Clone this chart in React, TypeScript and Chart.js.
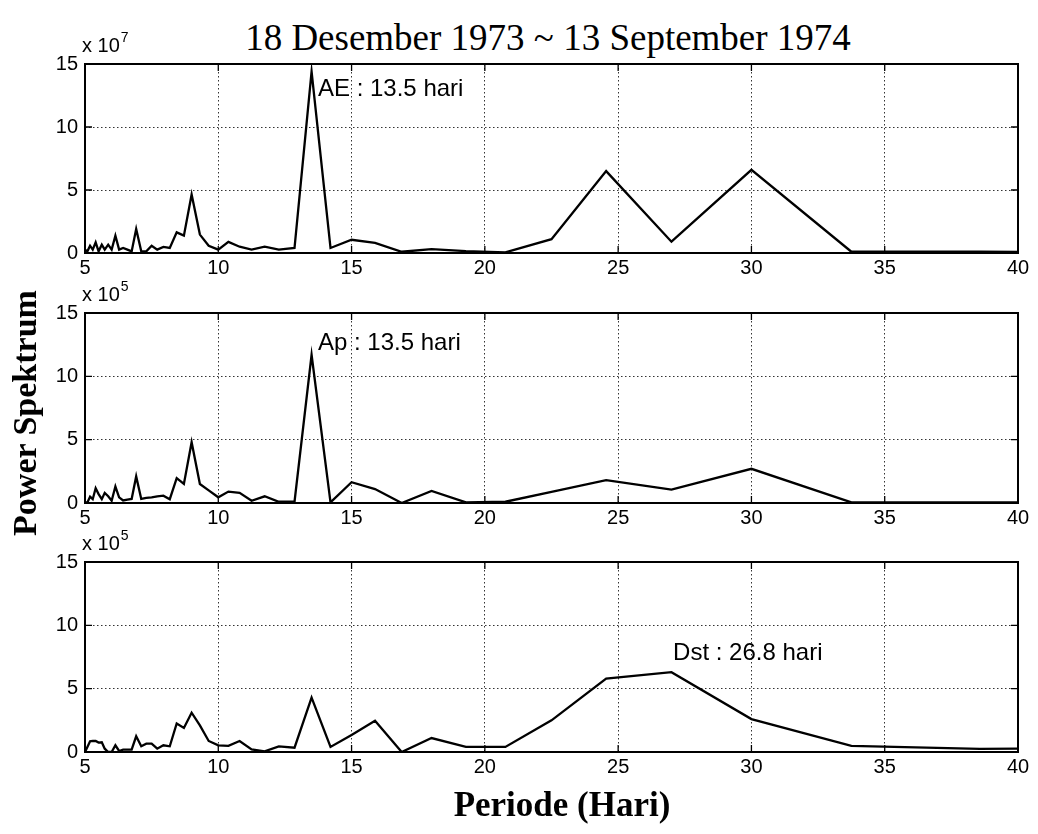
import React, { useEffect, useRef } from "react";
import { Chart, registerables } from "chart.js";

Chart.register(...registerables);

// Period (days) of each spectral estimate
const periods = [45, 38.57, 33.75, 30, 27, 24.55, 22.5, 20.77, 19.29, 18, 16.88, 15.88, 15, 14.21, 13.5, 12.86, 12.27, 11.74, 11.25, 10.8, 10.38, 10, 9.64, 9.31, 9, 8.71, 8.44, 8.18, 7.94, 7.71, 7.5, 7.3, 7.11, 6.92, 6.75, 6.59, 6.43, 6.28, 6.14, 6, 5.87, 5.74, 5.63, 5.51, 5.4, 5.29, 5.19, 5.09, 5];

// AE power spectrum (x 10^7)
const aeValues = [0.05, 0.1, 0.1, 6.6, 0.9, 6.5, 1.1, 0.05, 0.15, 0.3, 0.1, 0.8, 1.05, 0.4, 14.4, 0.4, 0.27, 0.5, 0.27, 0.5, 0.88, 0.27, 0.58, 1.46, 4.64, 1.38, 1.64, 0.4, 0.48, 0.27, 0.58, 0.13, 0.13, 1.9, 0.13, 0.27, 0.4, 0.27, 1.38, 0.27, 0.66, 0.27, 0.66, 0.13, 0.85, 0.27, 0.58, 0.13, 0.27];

// Ap power spectrum (x 10^5)
const apValues = [0.05, 0.05, 0.05, 2.7, 1.05, 1.8, 0.87, 0.1, 0.05, 0.95, 0.0, 1.1, 1.64, 0.05, 11.7, 0.1, 0.1, 0.53, 0.18, 0.8, 0.9, 0.45, 1.0, 1.5, 4.8, 1.5, 1.96, 0.3, 0.58, 0.53, 0.45, 0.4, 0.32, 2.1, 0.32, 0.26, 0.2, 0.45, 1.3, 0.18, 0.53, 0.8, 0.3, 0.7, 1.16, 0.3, 0.5, 0.05, 0.05];

// Dst power spectrum (x 10^5)
const dstValues = [0.33, 0.25, 0.48, 2.6, 6.3, 5.8, 2.5, 0.4, 0.4, 1.1, 0.0, 2.46, 1.35, 0.4, 4.3, 0.34, 0.45, 0.05, 0.2, 0.87, 0.48, 0.53, 0.87, 2.1, 3.1, 1.9, 2.25, 0.45, 0.53, 0.26, 0.66, 0.66, 0.45, 1.24, 0.18, 0.18, 0.18, 0.08, 0.53, 0, 0, 0.26, 0.77, 0.74, 0.87, 0.87, 0.85, 0.4, 0];

const xTickValues = [5, 10, 15, 20, 25, 30, 35, 40];
const yTickValues = [0, 5, 10, 15];

const titleText = "18 Desember 1973 ~ 13 September 1974";
const yAxisTitle = "Power Spektrum";
const xAxisTitle = "Periode (Hari)";

const SANS = '"Liberation Sans", Arial, Helvetica, sans-serif';
const SERIF = '"Liberation Serif", "Times New Roman", Times, serif';

const PAD_TOP = 40;
const AXIS_H = 35;
const LEFT_W = 85;
const RIGHT_PAD = 20;

type Panel = {
  values: number[];
  exponent: string;
  label: string;
  labelX: number;
  labelY: number;
  plotTop: number;
  plotBottom: number;
};

const panels: Panel[] = [
  { values: aeValues, exponent: "7", label: "AE : 13.5 hari", labelX: 13.74, labelY: 13.0, plotTop: 64, plotBottom: 253 },
  { values: apValues, exponent: "5", label: "Ap : 13.5 hari", labelX: 13.74, labelY: 12.6, plotTop: 313, plotBottom: 503 },
  { values: dstValues, exponent: "5", label: "Dst : 26.8 hari", labelX: 27.06, labelY: 7.75, plotTop: 562, plotBottom: 752 },
];

function SpectrumPanel({ panel }: { panel: Panel }) {
  const ref = useRef<HTMLCanvasElement | null>(null);
  const plotH = panel.plotBottom - panel.plotTop;
  const canvasH = plotH + PAD_TOP + AXIS_H;

  useEffect(() => {
    if (!ref.current) return;
    const framePlugin = {
      id: "frame",
      afterDatasetsDraw(chart: any) {
        const { ctx, chartArea: a, scales } = chart;
        ctx.save();
        ctx.strokeStyle = "#000";
        ctx.lineWidth = 1.3;
        ctx.beginPath();
        for (const v of xTickValues) {
          const x = scales.x.getPixelForValue(v);
          ctx.moveTo(x, a.bottom);
          ctx.lineTo(x, a.bottom - 7);
          ctx.moveTo(x, a.top);
          ctx.lineTo(x, a.top + 7);
        }
        for (const v of yTickValues) {
          const y = scales.y.getPixelForValue(v);
          ctx.moveTo(a.left, y);
          ctx.lineTo(a.left + 7, y);
          ctx.moveTo(a.right, y);
          ctx.lineTo(a.right - 7, y);
        }
        ctx.stroke();
        ctx.lineWidth = 2;
        ctx.strokeRect(a.left, a.top, a.right - a.left, a.bottom - a.top);

        ctx.fillStyle = "#000";
        ctx.font = `24px ${SANS}`;
        ctx.textAlign = "left";
        ctx.textBaseline = "middle";
        ctx.fillText(panel.label, scales.x.getPixelForValue(panel.labelX), scales.y.getPixelForValue(panel.labelY));

        ctx.textBaseline = "alphabetic";
        ctx.font = `20px ${SANS}`;
        const bx = a.left - 3;
        const by = a.top - 12;
        ctx.fillText("x 10", bx, by);
        const w = ctx.measureText("x 10").width;
        ctx.font = `14px ${SANS}`;
        ctx.fillText(panel.exponent, bx + w + 1, by - 10);
        ctx.restore();
      },
    };

    const data = periods.map((p, i) => ({ x: p, y: panel.values[i] }));

    const chart = new Chart(ref.current, {
      type: "line",
      data: {
        datasets: [
          {
            data,
            borderColor: "#000",
            borderWidth: 2.3,
            pointRadius: 0,
            tension: 0,
            fill: false,
          },
        ],
      },
      options: {
        responsive: false,
        animation: false,
        devicePixelRatio: 1,
        layout: { padding: { top: PAD_TOP, right: RIGHT_PAD, left: 0, bottom: 0 } },
        plugins: { legend: { display: false }, tooltip: { enabled: false }, title: { display: false } },
        scales: {
          x: {
            type: "linear",
            min: 5,
            max: 40,
            afterBuildTicks: (scale: any) => {
              scale.ticks = xTickValues.map((v) => ({ value: v }));
            },
            afterFit: (scale: any) => {
              scale.height = AXIS_H;
            },
            ticks: {
              color: "#000",
              font: { family: SANS, size: 20 },
              padding: 3,
              maxRotation: 0,
              autoSkip: false,
            },
            grid: { color: "rgba(0,0,0,0.8)", lineWidth: 1, drawTicks: false },
            border: { display: false, dash: [1.5, 2.5] },
          },
          y: {
            type: "linear",
            min: 0,
            max: 15,
            afterBuildTicks: (scale: any) => {
              scale.ticks = yTickValues.map((v) => ({ value: v }));
            },
            afterFit: (scale: any) => {
              scale.width = LEFT_W;
            },
            ticks: {
              color: "#000",
              font: { family: SANS, size: 20 },
              padding: 7,
              autoSkip: false,
            },
            grid: { color: "rgba(0,0,0,0.8)", lineWidth: 1, drawTicks: false },
            border: { display: false, dash: [1.5, 2.5] },
          },
        },
      },
      plugins: [framePlugin],
    } as any);
    return () => chart.destroy();
  }, [panel]);

  return (
    <canvas
      ref={ref}
      width={1038}
      height={canvasH}
      style={{ position: "absolute", left: 0, top: panel.plotTop - PAD_TOP, width: 1038, height: canvasH }}
    />
  );
}

export default function App() {
  return (
    <div style={{ position: "absolute", left: 0, top: 0, width: 1038, height: 834, background: "#fff", overflow: "hidden" }}>
      <div
        style={{
          position: "absolute",
          left: 29,
          top: 18,
          width: 1038,
          textAlign: "center",
          fontFamily: SERIF,
          fontSize: 37,
          lineHeight: "40px",
          color: "#000",
          whiteSpace: "nowrap",
        }}
      >
        {titleText}
      </div>
      {panels.map((p, i) => (
        <SpectrumPanel key={i} panel={p} />
      ))}
      <div
        style={{
          position: "absolute",
          left: 25 - 160,
          top: 413 - 20,
          width: 320,
          height: 40,
          lineHeight: "40px",
          textAlign: "center",
          transform: "rotate(-90deg)",
          fontFamily: SERIF,
          fontWeight: "bold",
          fontSize: 34,
          color: "#000",
          whiteSpace: "nowrap",
        }}
      >
        {yAxisTitle}
      </div>
      <div
        style={{
          position: "absolute",
          left: 562 - 200,
          top: 805 - 20,
          width: 400,
          lineHeight: "40px",
          textAlign: "center",
          fontFamily: SERIF,
          fontWeight: "bold",
          fontSize: 35,
          color: "#000",
          whiteSpace: "nowrap",
        }}
      >
        {xAxisTitle}
      </div>
    </div>
  );
}
